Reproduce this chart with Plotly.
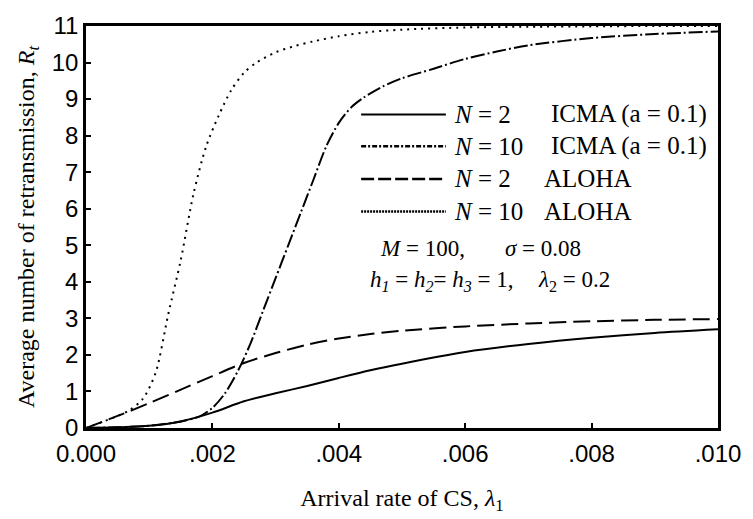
import plotly.graph_objects as go

# ---------------- data ----------------
x_icma2 = [0, .0005, .001, .0015, .002, .0025, .003, .0035, .004, .0045, .005, .006, .007, .008, .009, .010]
y_icma2 = [0, .02, .06, .18, .42, .73, .95, 1.15, 1.37, 1.58, 1.76, 2.08, 2.30, 2.47, 2.60, 2.70]

x_icma10 = [0, .0005, .001, .0015, .0018, .002, .0022, .0024, .0026, .0028, .003, .0032, .0034,
            .0036, .0038, .004, .0042, .0044, .0047, .005, .0055, .006, .0065, .007, .008, .009, .010]
y_icma10 = [0, .02, .06, .18, .32, .55, .95, 1.55, 2.3, 3.2, 4.1, 5.0, 5.9,
            6.8, 7.7, 8.35, 8.78, 9.05, 9.35, 9.57, 9.83, 10.1, 10.3, 10.47, 10.67, 10.78, 10.85]

x_aloha2 = [0, .0005, .001, .0015, .002, .0025, .003, .0035, .004, .0045, .005, .006, .007, .008, .009, .010]
y_aloha2 = [0, .33, .68, 1.05, 1.42, 1.78, 2.05, 2.28, 2.45, 2.57, 2.66, 2.78, 2.86, 2.92, 2.96, 2.98]

x_aloha10 = [0, .0005, .0007, .0009, .0011, .0013, .0015, .0017, .0019, .0021, .0023, .0025, .0027,
             .003, .0033, .0036, .004, .0045, .005, .006, .007, .008, .009, .010]
y_aloha10 = [0, .33, .5, .8, 1.5, 3.1, 4.6, 6.4, 7.7, 8.55, 9.25, 9.72, 10.0,
             10.28, 10.45, 10.58, 10.72, 10.84, 10.9, 10.96, 10.98, 10.99, 11.0, 11.0]

x_ticks = [0, .002, .004, .006, .008, .010]
x_ticklabels = ["0.000", ".002", ".004", ".006", ".008", ".010"]
y_ticks = list(range(0, 12))

# ---------------- styles ----------------
W, H = 753, 519
L, R, T, B = 86, 33, 12, 89
PW, PH = W - L - R, H - T - B
SERIF = "Liberation Serif, Times New Roman, serif"
SANS = "Liberation Sans, Arial, sans-serif"
TXT = 25
PTXT = 23

dash_icma10 = "14px,3px,2px,3px"
dash_aloha2 = "17px,7px"
dash_aloha10 = "2px,5px"

fig = go.Figure()
fig.add_trace(go.Scatter(x=x_icma2, y=y_icma2, mode="lines", showlegend=False,
                         line=dict(color="black", width=2, shape="spline", smoothing=0.8)))
fig.add_trace(go.Scatter(x=x_icma10, y=y_icma10, mode="lines", showlegend=False,
                         line=dict(color="black", width=2, dash=dash_icma10, shape="spline", smoothing=0.8)))
fig.add_trace(go.Scatter(x=x_aloha2, y=y_aloha2, mode="lines", showlegend=False,
                         line=dict(color="black", width=2, dash=dash_aloha2, shape="spline", smoothing=0.8)))
fig.add_trace(go.Scatter(x=x_aloha10, y=y_aloha10, mode="lines", showlegend=False,
                         line=dict(color="black", width=2, dash=dash_aloha10, shape="spline", smoothing=0.8)))


def px_x(p):
    return (p - L) / PW


def px_y(p):
    return (H - B - p) / PH


# manual legend
legend_rows = [
    (104, None, "<i>N</i> = 2", "ICMA (a = 0.1)", 550),
    (137, "5px,2px,2px,2px", "<i>N</i> = 10", "ICMA (a = 0.1)", 550),
    (171, "13px,4px", "<i>N</i> = 2", "ALOHA", 543),
    (205, "2px,1px", "<i>N</i> = 10", "ALOHA", 543),
]
shapes = []
annotations = []
for ypx, dash, t1, t2, x2 in legend_rows:
    ln = dict(color="black", width=2.5 if dash else 2)
    if dash:
        ln["dash"] = dash
    shapes.append(dict(type="line", xref="paper", yref="paper",
                       x0=px_x(362), x1=px_x(447), y0=px_y(ypx), y1=px_y(ypx), line=ln))
    annotations.append(dict(xref="paper", yref="paper", x=px_x(453), y=px_y(ypx),
                            xanchor="left", yanchor="middle", text=t1, showarrow=False,
                            font=dict(family=SERIF, size=TXT, color="black")))
    annotations.append(dict(xref="paper", yref="paper", x=px_x(x2), y=px_y(ypx),
                            xanchor="left", yanchor="middle", text=t2, showarrow=False,
                            font=dict(family=SERIF, size=TXT, color="black")))

param_texts = [
    (379, 243, "<i>M</i> = 100,"),
    (504, 243, "<i>σ</i> = 0.08"),
    (369, 277, "<i>h<sub>1</sub></i> = <i>h<sub>2</sub></i>= <i>h<sub>3</sub></i> = 1,"),
    (537, 277, "<i>λ</i><sub>2</sub> = 0.2"),
]
for xp, yp, t in param_texts:
    annotations.append(dict(xref="paper", yref="paper", x=px_x(xp), y=px_y(yp),
                            xanchor="left", yanchor="middle", text=t, showarrow=False,
                            font=dict(family=SERIF, size=PTXT, color="black")))

fig.update_layout(
    width=W, height=H,
    margin=dict(l=L, r=R, t=T, b=B, pad=0),
    paper_bgcolor="white", plot_bgcolor="white",
    shapes=shapes, annotations=annotations,
    xaxis=dict(range=[0, 0.010], tickvals=x_ticks, ticktext=x_ticklabels,
               showgrid=False, zeroline=False, showline=True, linecolor="black", linewidth=2.5,
               mirror=True, ticks="inside", ticklen=5, tickwidth=1.5, tickcolor="black",
               ticklabelstandoff=2,
               tickfont=dict(family=SANS, size=24, color="black"),
               title=dict(text="Arrival rate of CS, <i>λ</i><sub>1</sub>",
                          font=dict(family=SERIF, size=24, color="black"), standoff=24)),
    yaxis=dict(range=[0, 11], tickvals=y_ticks,
               showgrid=False, zeroline=False, showline=True, linecolor="black", linewidth=2.5,
               mirror=True, ticks="inside", ticklen=5, tickwidth=1.5, tickcolor="black",
               tickfont=dict(family=SANS, size=24, color="black"),
               title=dict(text="Average number of retransmission, <i>R<sub>t</sub></i>",
                          font=dict(family=SERIF, size=24, color="black"), standoff=11)),
)

fig.write_html("out.html")
